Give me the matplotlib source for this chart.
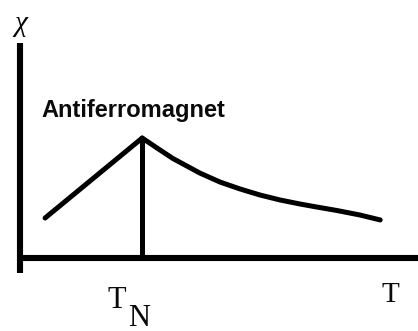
import matplotlib

matplotlib.use("Agg")
import matplotlib.pyplot as plt

# Susceptibility sketch of an antiferromagnet: linear rise up to the Neel
# temperature, then a Curie-Weiss-like fall-off above it.
T_BELOW = [0.63, 3.07]
CHI_BELOW = [1.86, 5.58]
T_ABOVE = [3.07, 3.44, 3.84, 4.52, 5.03, 5.53, 6.03, 6.53, 7.04,
           7.46, 7.96, 8.54, 9.05]
CHI_ABOVE = [5.58, 5.12, 4.63, 3.95, 3.53, 3.21, 2.93, 2.70, 2.51,
             2.37, 2.21, 2.00, 1.77]
T_NEEL = 3.07
CHI_NEEL = 5.58

LABEL = "Antiferromagnet"
Y_LABEL = "χ"
X_LABEL = "T"

INK = "#0a0a0a"


def main() -> None:
    fig = plt.figure(figsize=(4.18, 3.31), dpi=100)
    fig.patch.set_facecolor("white")
    ax = fig.add_axes([20 / 418, 73 / 331, 398 / 418, 215 / 331])
    ax.set_xlim(0, 10)
    ax.set_ylim(0, 10)
    ax.set_xticks([])
    ax.set_yticks([])
    for side in ("top", "right"):
        ax.spines[side].set_visible(False)
    for side in ("left", "bottom"):
        ax.spines[side].set_linewidth(4.4)
        ax.spines[side].set_color("black")
        ax.spines[side].set_capstyle("butt")
    ax.spines["left"].set_bounds(-0.7, 10)

    ax.plot(T_BELOW, CHI_BELOW, color="black", lw=3.6, solid_capstyle="round",
            solid_joinstyle="round", clip_on=False)
    ax.plot(T_ABOVE, CHI_ABOVE, color="black", lw=3.6, solid_capstyle="round",
            solid_joinstyle="round", clip_on=False)
    ax.plot([T_NEEL, T_NEEL], [0, CHI_NEEL], color="black", lw=3.6, solid_capstyle="butt")

    ax.text(0.55, 6.56, LABEL, fontsize=17, fontweight="bold", family="Liberation Sans",
            color=INK, ha="left", va="baseline")

    serif = dict(family="Liberation Serif", color=INK, clip_on=False)
    fig.text(21 / 418, 1 - 31 / 331, Y_LABEL, fontsize=21, style="italic", ha="center",
             va="baseline", **serif)
    ax.text(2.44, -2.33, X_LABEL, fontsize=22, ha="center", va="baseline", **serif)
    ax.text(3.0, -3.14, "N", fontsize=22, ha="center", va="baseline", **serif)
    ax.text(9.31, -2.05, X_LABEL, fontsize=21, ha="center", va="baseline", **serif)

    fig.savefig("out.png", dpi=100, facecolor="white")
    plt.close(fig)


if __name__ == "__main__":
    main()
